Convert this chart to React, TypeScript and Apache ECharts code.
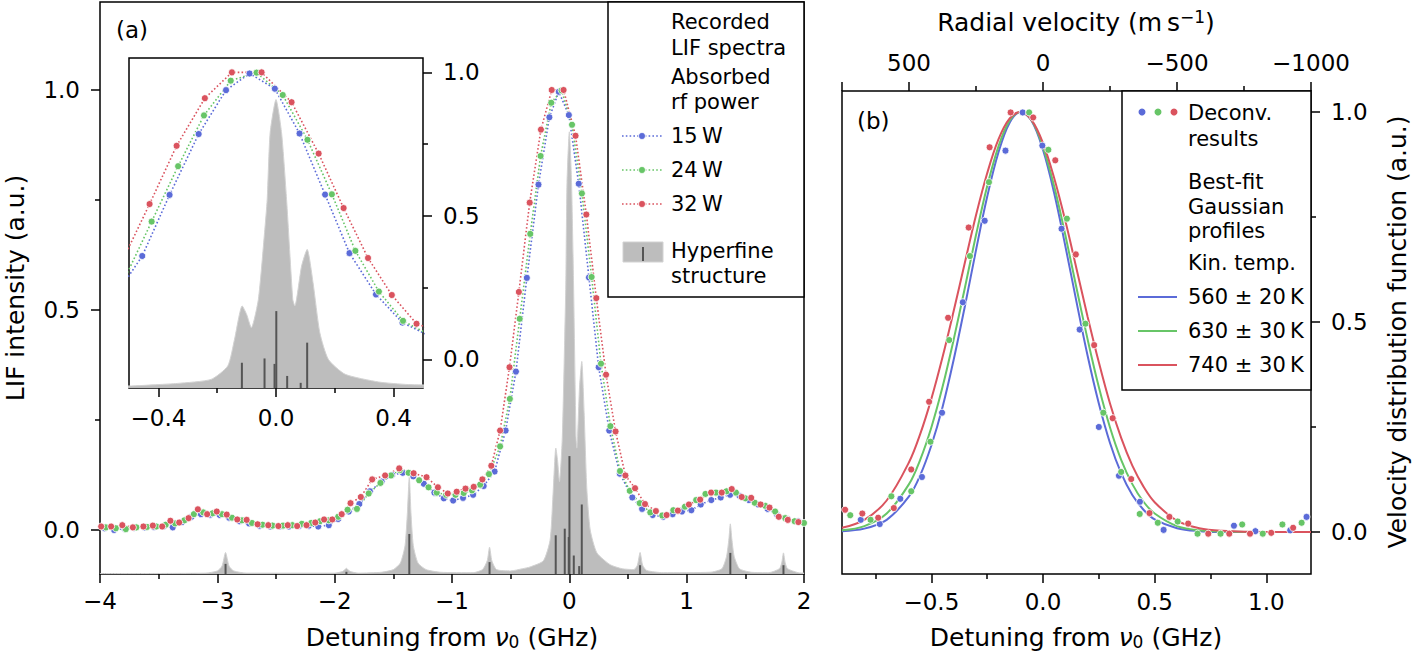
import React, { useEffect, useRef } from "react";
import * as echarts from "echarts";

const FONT = "DejaVu Sans";
const FS_TICK = 23;
const FS_NAME = 25;
const FS_LEG = 21;
const BLUE = "#5b6bd8";
const GREEN = "#67c567";
const RED = "#da535e";
const HFS_FILL = "#bdbdbd";
const HFS_EDGE = "#d2d2d2";
const STICK = "#555555";
const HFS_BASE = -0.1;

// ---- Panel (a): recorded LIF spectra [detuning GHz, intensity] ----
const lif15W: number[][] = [
  [-3.96, 0.004], [-3.88, 0.0], [-3.79, 0.003], [-3.71, 0.005], [-3.62, 0.006], [-3.54, 0.007],
  [-3.46, 0.008], [-3.38, 0.006], [-3.3, 0.018], [-3.22, 0.03], [-3.14, 0.036], [-3.06, 0.035],
  [-2.98, 0.034], [-2.9, 0.028], [-2.81, 0.02], [-2.73, 0.015], [-2.64, 0.01], [-2.55, 0.008],
  [-2.47, 0.008], [-2.39, 0.008], [-2.3, 0.01], [-2.22, 0.01], [-2.14, 0.008], [-2.05, 0.011],
  [-1.97, 0.025], [-1.88, 0.042], [-1.79, 0.059], [-1.7, 0.088], [-1.6, 0.11], [-1.51, 0.125],
  [-1.42, 0.13], [-1.33, 0.122], [-1.24, 0.105], [-1.15, 0.085], [-1.07, 0.072], [-0.99, 0.067],
  [-0.906, 0.073], [-0.82, 0.08], [-0.73, 0.1], [-0.637, 0.133], [-0.543, 0.226], [-0.455, 0.36],
  [-0.362, 0.573], [-0.263, 0.785], [-0.17, 0.938], [-0.09, 0.996], [-0.004, 0.943], [0.08, 0.787],
  [0.167, 0.574], [0.25, 0.37], [0.34, 0.226], [0.43, 0.128], [0.537, 0.074], [0.62, 0.048],
  [0.71, 0.034], [0.8, 0.03], [0.88, 0.036], [0.96, 0.042], [1.04, 0.045], [1.12, 0.058],
  [1.21, 0.068], [1.29, 0.074], [1.37, 0.08], [1.45, 0.078], [1.53, 0.068], [1.61, 0.058],
  [1.69, 0.048], [1.77, 0.035], [1.86, 0.025], [1.95, 0.02],
];

const lif24W: number[][] = [
  [-3.95, 0.006], [-3.865, 0.004], [-3.78, 0.002], [-3.69, 0.006], [-3.6, 0.007], [-3.52, 0.008],
  [-3.44, 0.012], [-3.36, 0.015], [-3.28, 0.022], [-3.2, 0.036], [-3.12, 0.04], [-3.04, 0.038],
  [-2.96, 0.036], [-2.875, 0.028], [-2.79, 0.022], [-2.705, 0.016], [-2.615, 0.012], [-2.53, 0.01],
  [-2.44, 0.01], [-2.36, 0.011], [-2.28, 0.014], [-2.2, 0.016], [-2.125, 0.02], [-2.05, 0.022],
  [-1.97, 0.03], [-1.89, 0.046], [-1.81, 0.048], [-1.71, 0.083], [-1.61, 0.107], [-1.52, 0.124],
  [-1.445, 0.136], [-1.37, 0.13], [-1.28, 0.113], [-1.2, 0.097], [-1.13, 0.085], [-1.05, 0.08],
  [-0.97, 0.08], [-0.9, 0.084], [-0.83, 0.09], [-0.76, 0.103], [-0.685, 0.127], [-0.59, 0.19],
  [-0.507, 0.298], [-0.423, 0.48], [-0.333, 0.673], [-0.245, 0.85], [-0.154, 0.971], [-0.066, 0.999],
  [0.023, 0.921], [0.107, 0.765], [0.19, 0.575], [0.27, 0.378], [0.35, 0.236], [0.432, 0.134],
  [0.515, 0.089], [0.6, 0.061], [0.69, 0.04], [0.792, 0.033], [0.886, 0.045], [0.985, 0.053],
  [1.081, 0.068], [1.16, 0.082], [1.25, 0.085], [1.34, 0.088], [1.42, 0.085], [1.5, 0.072],
  [1.58, 0.062], [1.67, 0.055], [1.754, 0.042], [1.84, 0.027], [1.92, 0.02], [2.0, 0.016],
];

const lif32W: number[][] = [
  [-3.99, 0.008], [-3.905, 0.008], [-3.81, 0.011], [-3.72, 0.006], [-3.63, 0.008], [-3.55, 0.01],
  [-3.47, 0.008], [-3.4, 0.021], [-3.325, 0.017], [-3.245, 0.027], [-3.166, 0.047], [-3.087, 0.036],
  [-3.005, 0.042], [-2.92, 0.035], [-2.83, 0.024], [-2.75, 0.023], [-2.657, 0.013], [-2.566, 0.011],
  [-2.48, 0.009], [-2.4, 0.011], [-2.32, 0.009], [-2.24, 0.011], [-2.165, 0.017], [-2.09, 0.024],
  [-2.02, 0.024], [-1.94, 0.036], [-1.865, 0.061], [-1.777, 0.075], [-1.68, 0.115], [-1.57, 0.124],
  [-1.45, 0.14], [-1.327, 0.129], [-1.217, 0.12], [-1.12, 0.097], [-1.036, 0.083], [-0.96, 0.087],
  [-0.885, 0.094], [-0.815, 0.098], [-0.741, 0.115], [-0.665, 0.146], [-0.59, 0.226], [-0.51, 0.37],
  [-0.43, 0.541], [-0.338, 0.744], [-0.242, 0.91], [-0.15, 1.0], [-0.049, 1.0], [0.053, 0.896],
  [0.145, 0.717], [0.23, 0.527], [0.313, 0.353], [0.394, 0.224], [0.478, 0.124], [0.56, 0.095],
  [0.645, 0.059], [0.738, 0.043], [0.829, 0.034], [0.925, 0.044], [1.019, 0.058], [1.115, 0.069],
  [1.208, 0.085], [1.299, 0.085], [1.384, 0.093], [1.469, 0.075], [1.55, 0.073], [1.63, 0.058],
  [1.706, 0.051], [1.785, 0.03], [1.862, 0.023], [1.952, 0.018],
];

// Hyperfine-structure profile [GHz, value] (baseline at -0.1)
const hfsProfile: number[][] = [
  [-4.0, -0.099], [-3.1, -0.098], [-3.0, -0.093], [-2.96, -0.082], [-2.93, -0.051], [-2.9, -0.082],
  [-2.86, -0.093], [-2.75, -0.098], [-2.0, -0.098], [-1.93, -0.094], [-1.9, -0.087], [-1.87, -0.094],
  [-1.8, -0.098], [-1.6, -0.096], [-1.5, -0.09], [-1.44, -0.075], [-1.4, -0.035], [-1.38, 0.04],
  [-1.364, 0.12], [-1.35, 0.04], [-1.33, -0.035], [-1.29, -0.075], [-1.22, -0.09], [-1.1, -0.096],
  [-0.82, -0.097], [-0.74, -0.09], [-0.7, -0.07], [-0.68, -0.039], [-0.66, -0.07], [-0.62, -0.09],
  [-0.5, -0.093], [-0.4, -0.088], [-0.335, -0.084], [-0.221, -0.07], [-0.164, -0.023], [-0.141, 0.07],
  [-0.115, 0.186], [-0.1, 0.157], [-0.084, 0.11], [-0.06, 0.209], [-0.039, 0.441], [-0.03, 0.557],
  [-0.02, 0.789], [0.0, 0.905], [0.019, 0.789], [0.036, 0.557], [0.057, 0.209], [0.064, 0.186],
  [0.087, 0.325], [0.106, 0.383], [0.126, 0.267], [0.149, 0.093], [0.178, 0.0], [0.235, -0.052],
  [0.349, -0.079], [0.45, -0.088], [0.55, -0.09], [0.58, -0.08], [0.603, -0.051], [0.625, -0.08],
  [0.66, -0.092], [0.8, -0.097], [1.2, -0.096], [1.3, -0.088], [1.34, -0.06], [1.36, -0.02],
  [1.372, 0.014], [1.385, -0.02], [1.405, -0.06], [1.45, -0.088], [1.55, -0.096], [1.7, -0.097],
  [1.79, -0.088], [1.81, -0.075], [1.825, -0.052], [1.84, -0.075], [1.86, -0.088], [1.95, -0.097],
  [2.0, -0.098],
];

// Hyperfine components [GHz, top value]
const hfsSticks: number[][] = [
  [-2.93, -0.077], [-1.9, -0.095], [-1.364, -0.009], [-0.68, -0.073], [-0.116, -0.012],
  [-0.039, 0.003], [-0.005, -0.016], [0.001, 0.168], [0.038, -0.058], [0.084, -0.082],
  [0.106, 0.058], [0.603, -0.08], [1.372, -0.052], [1.825, -0.08],
];

// ---- Panel (b): deconvolution results [GHz, value] ----
const deconv15W: number[][] = [
  [-0.816, 0.029], [-0.731, 0.019], [-0.639, 0.079], [-0.542, 0.131], [-0.452, 0.284], [-0.359, 0.547],
  [-0.261, 0.741], [-0.168, 0.908], [-0.091, 0.999], [-0.003, 0.92], [0.083, 0.722], [0.164, 0.482],
  [0.25, 0.25], [0.34, 0.134], [0.434, 0.072], [0.54, 0.005], [0.855, 0.015], [0.951, 0.002],
  [1.107, 0.004], [1.18, 0.036],
];
const deconv24W: number[][] = [
  [-0.863, 0.04], [-0.772, 0.029], [-0.679, 0.085], [-0.59, 0.097], [-0.504, 0.215], [-0.42, 0.457],
  [-0.327, 0.657], [-0.242, 0.833], [-0.062, 0.999], [0.024, 0.91], [0.107, 0.746], [0.19, 0.496],
  [0.27, 0.284], [0.35, 0.143], [0.433, 0.043], [0.514, 0.022], [0.603, 0.025], [0.692, -0.004],
  [0.795, -0.004], [0.892, 0.018], [0.984, -0.004], [1.072, 0.018], [1.158, 0.022],
];
const deconv32W: number[][] = [
  [-0.886, 0.053], [-0.809, 0.044], [-0.738, 0.034], [-0.668, 0.057], [-0.59, 0.149], [-0.51, 0.31],
  [-0.425, 0.51], [-0.333, 0.725], [-0.239, 0.916], [-0.145, 0.999], [-0.044, 0.987], [0.055, 0.885],
  [0.147, 0.661], [0.229, 0.445], [0.312, 0.271], [0.395, 0.126], [0.477, 0.045], [0.566, 0.036],
  [0.65, 0.02], [0.74, -0.004], [0.834, -0.004], [0.927, -0.004], [1.022, -0.002], [1.12, 0.01],
];

// Best-fit Gaussian profiles, read on a detuning grid
const fitX = [-0.9, -0.8, -0.7, -0.6, -0.55, -0.5, -0.45, -0.4, -0.35, -0.3, -0.25, -0.2, -0.15, -0.1,
  -0.05, 0, 0.05, 0.1, 0.15, 0.2, 0.25, 0.3, 0.35, 0.4, 0.45, 0.5, 0.6, 0.7, 0.8, 1.0, 1.2];
const fit560K = [0.002, 0.008, 0.029, 0.085, 0.135, 0.206, 0.297, 0.41, 0.537, 0.671, 0.798, 0.903, 0.974, 1.0,
  0.978, 0.91, 0.807, 0.681, 0.548, 0.419, 0.306, 0.212, 0.14, 0.088, 0.053, 0.03, 0.009, 0.002, 0.0, 0.0, 0.0];
const fit630K = [0.004, 0.014, 0.044, 0.114, 0.172, 0.249, 0.345, 0.458, 0.581, 0.707, 0.823, 0.917, 0.979, 1.0,
  0.979, 0.917, 0.823, 0.707, 0.581, 0.458, 0.345, 0.249, 0.172, 0.114, 0.072, 0.044, 0.014, 0.004, 0.001, 0.0, 0.0];
const fit740K = [0.01, 0.029, 0.075, 0.166, 0.233, 0.317, 0.416, 0.526, 0.641, 0.754, 0.854, 0.934, 0.984, 1.0,
  0.98, 0.926, 0.843, 0.741, 0.627, 0.512, 0.404, 0.306, 0.224, 0.158, 0.108, 0.071, 0.027, 0.009, 0.003, 0.0, 0.0];

const velocityLabels = [500, 0, -500, -1000];

const pair = (xs: number[], ys: number[]) => xs.map((x, i) => [x, ys[i]]);
const minus = (s: string) => s.replace("-", "\u2212");

const AXIS_COLOR = "#000";
const LABEL = { color: "#000", fontSize: FS_TICK, fontFamily: FONT };
const TICK_STYLE = { color: AXIS_COLOR, width: 1.5 };

function baseAxis(extra: any) {
  return {
    type: "value",
    splitLine: { show: false },
    minorSplitLine: { show: false },
    axisLine: { show: false, onZero: false },
    ...extra,
  };
}
function majorAxis(grid: number, position: string, min: number, max: number, values: number[], digits: number, extra: any = {}) {
  return baseAxis({
    gridIndex: grid, position, min, max,
    axisTick: { show: true, customValues: values, length: 9, lineStyle: TICK_STYLE },
    axisLabel: {
      ...LABEL, margin: 18, customValues: values,
      formatter: (v: number) => minus(v.toFixed(digits)),
    },
    ...extra,
  });
}
function minorAxis(grid: number, position: string, min: number, max: number, values: number[], extra: any = {}) {
  return baseAxis({
    gridIndex: grid, position, min, max,
    axisTick: { show: true, customValues: values, length: 5, lineStyle: TICK_STYLE },
    axisLabel: { show: false },
    ...extra,
  });
}

function stickSeries(xi: number, yi: number) {
  return {
    type: "custom", xAxisIndex: xi, yAxisIndex: yi, data: hfsSticks, clip: true, z: 3, silent: true,
    renderItem: (_p: any, api: any) => {
      const a = api.coord([api.value(0), HFS_BASE]);
      const b = api.coord([api.value(0), api.value(1)]);
      return { type: "line", shape: { x1: a[0], y1: a[1], x2: b[0], y2: b[1] }, style: { stroke: STICK, lineWidth: 2 } };
    },
  };
}
function hfsSeries(xi: number, yi: number) {
  return {
    type: "line", xAxisIndex: xi, yAxisIndex: yi, data: hfsProfile, symbol: "none", smooth: 0.2,
    lineStyle: { color: HFS_EDGE, width: 1 }, areaStyle: { color: HFS_FILL, opacity: 1, origin: "start" },
    z: 2, silent: true,
  };
}
function lifSeries(xi: number, yi: number, data: number[][], color: string) {
  return {
    type: "line", xAxisIndex: xi, yAxisIndex: yi, data, symbol: "circle", symbolSize: 7,
    itemStyle: { color, borderColor: "#fff", borderWidth: 0.8 },
    lineStyle: { color, width: 1.6, type: [1.6, 2.2] }, z: 4, silent: true,
  };
}

const txt = (x: number, y: number, text: string, size = FS_LEG) => ({
  type: "text", x, y, z: 100,
  style: { text, fill: "#000", font: `${size}px '${FONT}'`, lineHeight: size, textAlign: "left", textVerticalAlign: "middle" },
});

const richName = {
  a: { fontSize: FS_NAME, fontFamily: FONT, fill: "#000" },
  i: { fontSize: FS_NAME, fontFamily: FONT, fontStyle: "italic", fill: "#000" },
  s: { fontSize: 17, fontFamily: FONT, fill: "#000", padding: [10, 0, 0, 0] },
  p: { fontSize: 17, fontFamily: FONT, fill: "#000", padding: [0, 0, 11, 0] },
};

export default function App() {
  const ref = useRef<HTMLDivElement>(null);
  useEffect(() => {
    if (!ref.current) return;
    const chart = echarts.init(ref.current, undefined, { renderer: "svg" });
    const option: any = {
      animation: false,
      textStyle: { fontFamily: FONT },
      grid: [
        { left: 100, top: 2, width: 704, height: 572, show: true, borderColor: "#000", borderWidth: 1.5, backgroundColor: "#fff" },
        { left: 129, top: 58, width: 294, height: 330, show: true, borderColor: "#000", borderWidth: 1.5, backgroundColor: "#fff", z: 5 },
        { left: 842, top: 91, width: 469, height: 483, show: true, borderColor: "#000", borderWidth: 1.5, backgroundColor: "#fff" },
      ],
      xAxis: [
        baseAxis({
          gridIndex: 0, position: "bottom", min: -4, max: 2, interval: 1,
          axisTick: { show: true, length: 9, lineStyle: TICK_STYLE },
          minorTick: { show: true, splitNumber: 2, length: 5, lineStyle: TICK_STYLE },
          axisLabel: { ...LABEL, margin: 15, formatter: (v: number) => minus(v.toFixed(0)) },
        }),
        majorAxis(1, "bottom", -0.5, 0.5, [-0.4, 0, 0.4], 1, { z: 6 }),
        minorAxis(1, "bottom", -0.5, 0.5, [-0.2, 0.2], { z: 6 }),
        majorAxis(2, "bottom", -0.9, 1.2, [-0.5, 0, 0.5, 1.0], 1, { axisLabel: { ...LABEL, margin: 16, customValues: [-0.5, 0, 0.5, 1.0], formatter: (v: number) => minus(v.toFixed(1)) } }),
        minorAxis(2, "bottom", -0.9, 1.2, [-0.75, -0.25, 0.25, 0.75]),
        baseAxis({
          gridIndex: 2, position: "top", min: -1000, max: 750, interval: 500, inverse: true,
          axisTick: { show: true, length: 9, lineStyle: TICK_STYLE },
          minorTick: { show: true, splitNumber: 2, length: 5, lineStyle: TICK_STYLE },
          axisLabel: {
            ...LABEL, margin: 17,
            formatter: (v: number) => (velocityLabels.indexOf(v) >= 0 ? minus(v.toFixed(0)) : ""),
          },
        }),
      ],
      yAxis: [
        majorAxis(0, "left", -0.1, 1.2, [0, 0.5, 1.0], 1, { axisLabel: { ...LABEL, margin: 20, customValues: [0, 0.5, 1.0], formatter: (v: number) => v.toFixed(1) } }),
        minorAxis(0, "left", -0.1, 1.2, [0.25, 0.75]),
        majorAxis(1, "right", -0.1, 1.05, [0, 0.5, 1.0], 1, { z: 6, axisLabel: { ...LABEL, margin: 20, customValues: [0, 0.5, 1.0], formatter: (v: number) => v.toFixed(1) } }),
        minorAxis(1, "right", -0.1, 1.05, [0.25, 0.75], { z: 6 }),
        majorAxis(2, "right", -0.1, 1.05, [0, 0.5, 1.0], 1, { axisLabel: { ...LABEL, margin: 20, customValues: [0, 0.5, 1.0], formatter: (v: number) => v.toFixed(1) } }),
        minorAxis(2, "right", -0.1, 1.05, [0.25, 0.75]),
      ],
      series: [
        hfsSeries(0, 0),
        stickSeries(0, 0),
        lifSeries(0, 0, lif15W, BLUE),
        lifSeries(0, 0, lif24W, GREEN),
        lifSeries(0, 0, lif32W, RED),
        { ...hfsSeries(1, 2), z: 6 },
        { ...stickSeries(1, 2), z: 7 },
        { ...lifSeries(1, 2, lif15W, BLUE), z: 8 },
        { ...lifSeries(1, 2, lif24W, GREEN), z: 8 },
        { ...lifSeries(1, 2, lif32W, RED), z: 8 },
        { type: "line", xAxisIndex: 3, yAxisIndex: 4, data: pair(fitX, fit560K), symbol: "none", smooth: 0.35, lineStyle: { color: BLUE, width: 2 }, z: 2 },
        { type: "line", xAxisIndex: 3, yAxisIndex: 4, data: pair(fitX, fit630K), symbol: "none", smooth: 0.35, lineStyle: { color: GREEN, width: 2 }, z: 2 },
        { type: "line", xAxisIndex: 3, yAxisIndex: 4, data: pair(fitX, fit740K), symbol: "none", smooth: 0.35, lineStyle: { color: RED, width: 2 }, z: 2 },
        { type: "scatter", xAxisIndex: 3, yAxisIndex: 4, data: deconv15W, symbolSize: 7, itemStyle: { color: BLUE, borderColor: "#fff", borderWidth: 0.8, opacity: 1 }, z: 4 },
        { type: "scatter", xAxisIndex: 3, yAxisIndex: 4, data: deconv24W, symbolSize: 7, itemStyle: { color: GREEN, borderColor: "#fff", borderWidth: 0.8, opacity: 1 }, z: 4 },
        { type: "scatter", xAxisIndex: 3, yAxisIndex: 4, data: deconv32W, symbolSize: 7, itemStyle: { color: RED, borderColor: "#fff", borderWidth: 0.8, opacity: 1 }, z: 4 },
      ],
      graphic: [
        txt(116, 30, "(a)", 23),
        txt(857, 121, "(b)", 23),
        {
          type: "text", x: 452, y: 637, z: 100,
          style: { text: "{a|Detuning from }{i|\u03bd}{s|0}{a| (GHz)}", textAlign: "center", textVerticalAlign: "middle", rich: richName },
        },
        {
          type: "text", x: 1076, y: 637, z: 100,
          style: { text: "{a|Detuning from }{i|\u03bd}{s|0}{a| (GHz)}", textAlign: "center", textVerticalAlign: "middle", rich: richName },
        },
        {
          type: "text", x: 1076, y: 22, z: 100,
          style: { text: "{a|Radial velocity (m\u2009s}{p|\u22121}{a|)}", textAlign: "center", textVerticalAlign: "middle", rich: richName },
        },
        {
          type: "text", x: 15, y: 288, rotation: Math.PI / 2, z: 100,
          style: { text: "LIF intensity (a.u.)", font: `${FS_NAME}px '${FONT}'`, fill: "#000", textAlign: "center", textVerticalAlign: "middle" },
        },
        {
          type: "text", x: 1397, y: 332, rotation: Math.PI / 2, z: 100,
          style: { text: "Velocity distribution function (a.u.)", font: `${FS_NAME}px '${FONT}'`, fill: "#000", textAlign: "center", textVerticalAlign: "middle" },
        },
        // legend (a)
        { type: "rect", z: 90, shape: { x: 608, y: 2, width: 196, height: 295 }, style: { fill: "#fff", stroke: "#000", lineWidth: 1.5 } },
        txt(671, 22, "Recorded"),
        txt(671, 48, "LIF spectra"),
        txt(671, 77, "Absorbed"),
        txt(671, 102, "rf power"),
        { type: "line", z: 100, shape: { x1: 622, y1: 136, x2: 662, y2: 136 }, style: { stroke: BLUE, lineWidth: 1.6, lineDash: [1.6, 2.2] } },
        { type: "circle", z: 101, shape: { cx: 642, cy: 136, r: 3.5 }, style: { fill: BLUE, stroke: "#fff", lineWidth: 0.8 } },
        txt(671, 136, "15\u2009W"),
        { type: "line", z: 100, shape: { x1: 622, y1: 170, x2: 662, y2: 170 }, style: { stroke: GREEN, lineWidth: 1.6, lineDash: [1.6, 2.2] } },
        { type: "circle", z: 101, shape: { cx: 642, cy: 170, r: 3.5 }, style: { fill: GREEN, stroke: "#fff", lineWidth: 0.8 } },
        txt(671, 170, "24\u2009W"),
        { type: "line", z: 100, shape: { x1: 622, y1: 204, x2: 662, y2: 204 }, style: { stroke: RED, lineWidth: 1.6, lineDash: [1.6, 2.2] } },
        { type: "circle", z: 101, shape: { cx: 642, cy: 204, r: 3.5 }, style: { fill: RED, stroke: "#fff", lineWidth: 0.8 } },
        txt(671, 204, "32\u2009W"),
        { type: "rect", z: 100, shape: { x: 623, y: 242, width: 40, height: 20 }, style: { fill: HFS_FILL, stroke: HFS_EDGE, lineWidth: 1 } },
        { type: "line", z: 101, shape: { x1: 643, y1: 247, x2: 643, y2: 261 }, style: { stroke: STICK, lineWidth: 2 } },
        txt(671, 251, "Hyperfine"),
        txt(671, 276, "structure"),
        // legend (b)
        { type: "rect", z: 90, shape: { x: 1122, y: 91, width: 189, height: 299 }, style: { fill: "#fff", stroke: "#000", lineWidth: 1.5 } },
        { type: "circle", z: 101, shape: { cx: 1142, cy: 112, r: 3.5 }, style: { fill: BLUE } },
        { type: "circle", z: 101, shape: { cx: 1158, cy: 112, r: 3.5 }, style: { fill: GREEN } },
        { type: "circle", z: 101, shape: { cx: 1174, cy: 112, r: 3.5 }, style: { fill: RED } },
        txt(1188, 113, "Deconv."),
        txt(1188, 139, "results"),
        txt(1188, 182, "Best-fit"),
        txt(1188, 207, "Gaussian"),
        txt(1188, 231, "profiles"),
        txt(1188, 263, "Kin. temp."),
        { type: "line", z: 100, shape: { x1: 1138, y1: 297, x2: 1177, y2: 297 }, style: { stroke: BLUE, lineWidth: 2 } },
        txt(1188, 297, "560 \u00b1 20\u2009K"),
        { type: "line", z: 100, shape: { x1: 1138, y1: 331, x2: 1177, y2: 331 }, style: { stroke: GREEN, lineWidth: 2 } },
        txt(1188, 331, "630 \u00b1 30\u2009K"),
        { type: "line", z: 100, shape: { x1: 1138, y1: 365, x2: 1177, y2: 365 }, style: { stroke: RED, lineWidth: 2 } },
        txt(1188, 365, "740 \u00b1 30\u2009K"),
      ],
    };
    chart.setOption(option);
    return () => chart.dispose();
  }, []);
  return <div ref={ref} style={{ position: "fixed", left: 0, top: 0, width: "1412px", height: "663px", background: "#fff" }} />;
}
